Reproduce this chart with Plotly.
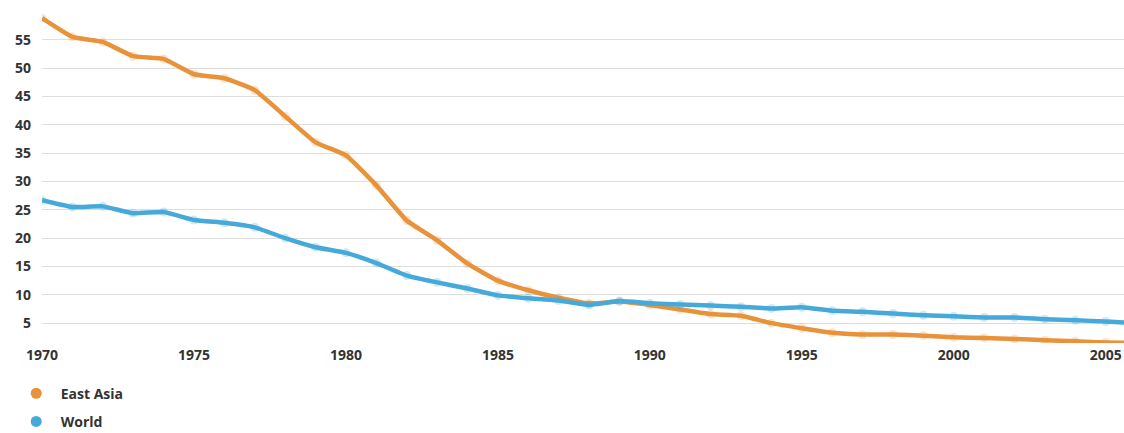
import plotly.graph_objects as go

years = list(range(1970, 2007))

east_asia = [58.8, 55.5, 54.6, 52.1, 51.6, 48.9, 48.2, 46.1, 41.5, 36.9,
             34.6, 29.3, 23.1, 19.6, 15.5, 12.5, 10.8, 9.5, 8.5, 8.8,
             8.2, 7.4, 6.6, 6.3, 5.0, 4.1, 3.3, 3.0, 3.0, 2.8,
             2.5, 2.4, 2.2, 2.0, 1.8, 1.6, 1.5]

world = [26.7, 25.5, 25.6, 24.4, 24.6, 23.2, 22.7, 21.9, 20.0, 18.4,
         17.4, 15.6, 13.4, 12.2, 11.1, 9.9, 9.4, 9.0, 8.2, 8.9,
         8.5, 8.3, 8.1, 7.9, 7.6, 7.8, 7.2, 7.0, 6.7, 6.4,
         6.2, 6.0, 6.0, 5.7, 5.5, 5.3, 5.0]

series_names = ["East Asia", "World"]
series_colors = ["#E8923A", "#45A9D9"]

y_ticks = [5, 10, 15, 20, 25, 30, 35, 40, 45, 50, 55]
x_ticks = [1970, 1975, 1980, 1985, 1990, 1995, 2000, 2005]

font_family = "Open Sans"
text_color = "#333333"
tick_font = dict(family=font_family, size=14, weight=700, color=text_color)

fig = go.Figure()

for name, values, color in zip(series_names, [east_asia, world], series_colors):
    # faint year markers under the line
    fig.add_trace(go.Scatter(
        x=years, y=values, mode="markers",
        marker=dict(size=9, color=color, opacity=0.25),
        showlegend=False, hoverinfo="skip",
    ))
    fig.add_trace(go.Scatter(
        x=years, y=values, mode="lines", name=name,
        line=dict(color=color, width=4.5, shape="spline", smoothing=0.4),
        showlegend=False,
    ))

# legend entries drawn as plain dots
for name, color in zip(series_names, series_colors):
    fig.add_trace(go.Scatter(
        x=[None], y=[None], mode="markers", name=name,
        legendgroup=name,
        marker=dict(size=11, color=color),
        showlegend=True,
    ))

fig.update_layout(
    width=1124, height=433,
    margin=dict(l=42, r=0, t=0, b=90, autoexpand=False),
    paper_bgcolor="white", plot_bgcolor="white",
    font=tick_font,
    xaxis=dict(
        range=[1970, 2005.6],
        tickvals=x_ticks, ticktext=[str(v) for v in x_ticks],
        showgrid=False, zeroline=False, showline=False,
        ticks="", tickfont=tick_font,
        ticklabelstandoff=2, automargin=False,
    ),
    yaxis=dict(
        range=[1.5, 62],
        tickvals=y_ticks, ticktext=[str(v) for v in y_ticks],
        showgrid=True, gridcolor="#dedede", gridwidth=1,
        zeroline=False, showline=False, ticks="",
        tickfont=tick_font,
        ticklabelstandoff=10, automargin=False,
    ),
    legend=dict(
        orientation="v", x=-0.028, xanchor="left", y=-0.101, yanchor="top",
        font=tick_font,
        itemwidth=39, tracegroupgap=7,
        bgcolor="rgba(0,0,0,0)",
    ),
    showlegend=True,
)

fig.write_html("out.html")
